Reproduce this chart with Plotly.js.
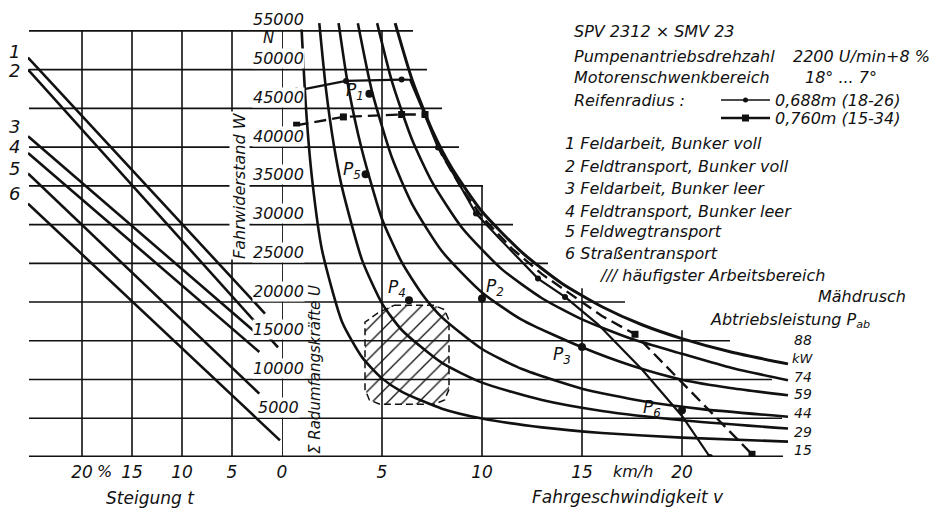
<!DOCTYPE html>
<html><head><meta charset="utf-8">
<script src="https://cdn.plot.ly/plotly-3.0.1.min.js"></script>
<style>html,body{margin:0;padding:0;background:#fff}#chart{width:933px;height:513px}</style>
</head><body><div id="chart"></div>
<script>
// ---------- DATA ----------
// Left part: resistance lines vs gradient (Steigung t in %, force in N)
const gradeNames = ['1','2','3','4','5','6'];
const grade1T = [25.4, 1.7],  grade1F = [51560, 18510];
const grade2T = [25.4, 0.4],  grade2F = [50010, 14160];
const grade3T = [25.4, 2.7],  grade3F = [41400, 16140];
const grade4T = [25.4, 2.27], grade4F = [39250, 13560];
const grade5T = [25.4, 2.27], grade5F = [36590, 8180];
const grade6T = [25.4, 0.2],  grade6F = [32710, 2150];

// Right part: output power curves (speed km/h, force N)
const powerLabels = ['15','29','44','59','74','88'];
const p15V = [0.964,1.2,1.5,2,3,4,5,6,8,10,13,16,20,25.3];
const p15F = [56000,45000,36000,26730,17460,12890,10150,8415,6240,4970,3820,3105,2500,1985];
const p29V = [1.864,2.2,2.6,3,4,5,6,8,10,13,16,20,25.3];
const p29F = [56000,47450,40150,34800,25450,19840,16360,12140,9605,7350,5940,4750,3670];
const p44V = [2.829,3.3,4,5,6,7,8,10,12,15,18,21,25.3];
const p44F = [56000,48000,39600,30730,25080,21050,18020,13940,11350,8820,7220,6185,5195];
const p59V = [3.793,4.5,5.5,6.5,8,10,12,15,17.5,20,22.5,25.3];
const p59F = [56000,47200,38620,32680,26550,21240,17700,14160,11775,9980,8875,7975];
const p74V = [4.757,5.5,6.5,7.5,9,11,13,15,17.5,20,22.5,25.3];
const p74F = [56000,48440,40985,35520,29600,24220,20490,17760,15220,13320,11485,9900];
const p88V = [5.657,6.5,7.5,8.5,10,12,14,16,18,20,22.5,25.3];
const p88F = [56000,48740,42240,37270,31680,26400,22400,19400,17070,15285,13515,12020];

// Tyre radius limit curves
const r688V = [0.73,3.2,5.98,6.4,7.0,7.8,8.7,9.7,10.8,12.8,14.15,15.8,18.0,20.0,21.4];
const r688F = [47300,48550,48720,48700,45000,39950,35940,31420,28400,23030,20660,17130,11300,5300,0];
const r688DotV = [0.73,3.2,5.98,7.8,9.7,12.8,14.15,21.4];
const r688DotF = [47300,48550,48720,39950,31420,23030,20660,0];
const r760V = [0.73,3.07,5.98,7.15,8,9,10,11.5,13,14.5,16,17.65,23.5];
const r760F = [42830,43900,44210,44210,39000,34600,31000,26900,23600,20900,18200,15840,350];
const r760SqV = [0.73,3.07,5.98,7.15,17.65,23.5];
const r760SqF = [42830,43900,44210,44210,15840,350];

// Most frequent working area (hatched)
const hatchV = [5.6,7.6,8.13,8.35,8.35,8.13,7.6,4.9,4.37,4.15,4.15,4.8,5.6];
const hatchF = [19580,19580,19012,17640,8740,7368,6800,6800,7368,8740,17400,18600,19580];

// Operating points
const pointNames = ['P<sub>1</sub>','P<sub>5</sub>','P<sub>4</sub>','P<sub>2</sub>','P<sub>3</sub>','P<sub>6</sub>'];
const pointV = [4.37,4.18,6.35,10.0,15.0,20.0];
const pointF = [46900,36500,20230,20450,14200,6030];

// Axes / grid
const forceTicks = [5000,10000,15000,20000,25000,30000,35000,40000,45000,50000,55000];
const gridF = [0,5000,10000,15000,20000,25000,30000,35000,40000,45000,50000,55000];
const gridRightEndV = [25.05,25.0,24.5,22.4,17.15,13.3,11.55,10.05,8.85,8.0,7.25,6.55];
const gradeTicks = [20,15,10,5,0];
const speedTicks = [5,10,15,20];
const speedGridTopF = [55000,35000,21780,16360];

// ---------- LAYOUT HELPERS ----------
const W=933,H=513,ML=28,MR=143,MT=10,MB=56;
const PW=W-ML-MR, PH=H-MT-MB;
const px = x => (x-ML)/PW;
const py = y => (H-MB-y)/PH;
const FONT = 'DejaVu Sans';
const K = '#111';

const traces = [];
const gT=[grade1T,grade2T,grade3T,grade4T,grade5T,grade6T];
const gF=[grade1F,grade2F,grade3F,grade4F,grade5F,grade6F];
gT.forEach((t,i)=>traces.push({x:t,y:gF[i],xaxis:'x',yaxis:'y',mode:'lines',line:{color:K,width:2.6},hoverinfo:'skip'}));

traces.push({x:hatchV,y:hatchF,xaxis:'x2',yaxis:'y',mode:'lines',fill:'toself',fillcolor:'rgba(0,0,0,0)',
  fillpattern:{shape:'/',fgcolor:K,bgcolor:'rgba(0,0,0,0)',size:11,solidity:0.12},
  line:{color:K,width:1.5,dash:'7px,4px'},hoverinfo:'skip'});

const pv=[p15V,p29V,p44V,p59V,p74V,p88V], pf=[p15F,p29F,p44F,p59F,p74F,p88F];
pv.forEach((v,i)=>traces.push({x:v,y:pf[i],xaxis:'x2',yaxis:'y',mode:'lines',line:{color:K,width:i===5?3:2.6,shape:'spline',smoothing:0.6},hoverinfo:'skip'}));

traces.push({x:r688V,y:r688F,xaxis:'x2',yaxis:'y',mode:'lines',line:{color:K,width:2.2},hoverinfo:'skip'});
traces.push({x:r760V,y:r760F,xaxis:'x2',yaxis:'y',mode:'lines',line:{color:K,width:2.4,dash:'12px,6px'},hoverinfo:'skip'});
traces.push({x:r688DotV,y:r688DotF,xaxis:'x2',yaxis:'y',mode:'markers',marker:{color:K,size:6,symbol:'circle'},hoverinfo:'skip'});
traces.push({x:r760SqV,y:r760SqF,xaxis:'x2',yaxis:'y',mode:'markers',marker:{color:K,size:7,symbol:'square'},hoverinfo:'skip'});
traces.push({x:pointV,y:pointF,xaxis:'x2',yaxis:'y',mode:'markers',marker:{color:K,size:8},hoverinfo:'skip'});

// ---------- SHAPES ----------
const shapes=[];
const ln=(xref,x0,x1,y0,y1,w)=>({type:'line',xref:xref,yref:'y',x0:x0,x1:x1,y0:y0,y1:y1,layer:'below',line:{color:K,width:w}});
gridF.forEach((f,i)=>{
  const w = f===0?3:1.6;
  shapes.push(ln('x',25.3,0,f,f,w));
  shapes.push(ln('x2',0,gridRightEndV[i],f,f,w));
});
gradeTicks.filter(t=>t>0).forEach(t=>shapes.push(ln('x',t,t,0,55000,1.6)));
shapes.push(ln('x2',0,0,0,55000,1.8));
speedTicks.forEach((v,i)=>shapes.push(ln('x2',v,v,0,speedGridTopF[i],1.6)));
// legend samples for tyre radius
shapes.push({type:'line',xref:'paper',yref:'paper',x0:px(721),x1:px(770),y0:py(100),y1:py(100),line:{color:K,width:1.6}});
shapes.push({type:'circle',xref:'paper',yref:'paper',x0:px(743),x1:px(748),y0:py(97.5),y1:py(102.5),fillcolor:K,line:{color:K,width:0}});
shapes.push({type:'line',xref:'paper',yref:'paper',x0:px(721),x1:px(770),y0:py(118),y1:py(118),line:{color:K,width:2.6}});
shapes.push({type:'rect',xref:'paper',yref:'paper',x0:px(742),x1:px(749),y0:py(114.5),y1:py(121.5),fillcolor:K,line:{color:K,width:0}});

// ---------- ANNOTATIONS ----------
const ann=[];
const f = (size)=>({family:FONT,size:size,color:K,style:'italic'});
const txt=(text,x,y,xa,size,extra)=>Object.assign({text:text,xref:'paper',yref:'paper',x:px(x),y:py(y),xanchor:xa,yanchor:'middle',showarrow:false,font:f(size)},extra||{});

forceTicks.forEach(v=>ann.push({text:String(v),xref:'x2',yref:'y',x:0,y:v,xshift:-4,yshift:11,xanchor:'center',yanchor:'middle',showarrow:false,bgcolor:'#fff',borderpad:0,font:f(16)}));
ann.push(txt('N',268,38,'center',15));

const pShift=[[-14,2],[-14,4],[-12,12],[13,11],[-20,-9],[-30,2]];
pointNames.forEach((n,i)=>ann.push({text:n,xref:'x2',yref:'y',x:pointV[i],y:pointF[i],xshift:pShift[i][0],yshift:pShift[i][1],showarrow:false,font:f(17)}));

const gradeLabelY=[51.7,71,126.7,146.7,168.3,193.3];
gradeNames.forEach((n,i)=>ann.push(txt(n,14,gradeLabelY[i],'center',18)));

ann.push(txt('SPV 2312 × SMV 23',571.7,31,'left',16));
ann.push(txt('Pumpenantriebsdrehzahl',571.7,56,'left',16));
ann.push(txt('2200 U/min+8 %',791,56,'left',16));
ann.push(txt('Motorenschwenkbereich',571.7,78,'left',16));
ann.push(txt('18° ... 7°',803,78,'left',16));
ann.push(txt('Reifenradius :',571.7,100,'left',16));
ann.push(txt('0,688m (18-26)',773,100,'left',16));
ann.push(txt('0,760m (15-34)',773,118,'left',16));
const legendLines=['1 Feldarbeit, Bunker voll','2 Feldtransport, Bunker voll','3 Feldarbeit, Bunker leer','4 Feldtransport, Bunker leer','5 Feldwegtransport','6 Straßentransport'];
const legendY=[143,166,188,211,232,253];
legendLines.forEach((s,i)=>ann.push(txt(s,563,legendY[i],'left',16)));
ann.push(txt('/// häufigster Arbeitsbereich',596.7,275,'left',16));
ann.push(txt('Mähdrusch',908,297,'right',16));
ann.push(txt('Abtriebsleistung P<sub>ab</sub>',708,320,'left',16));

const curveLabelY=[450,431.7,413,394,377,340];
powerLabels.forEach((s,i)=>ann.push(txt(s,803,curveLabelY[i],'center',14)));
ann.push(txt('kW',803,358,'center',13));

ann.push(txt('%',104,471,'center',16));
ann.push(txt('km/h',633,471,'center',16));
ann.push(txt('Steigung t',150,498,'center',17));
ann.push(txt('Fahrgeschwindigkeit v',628,497,'center',17));
ann.push(txt('Fahrwiderstand W',240,186,'center',16,{textangle:-90,bgcolor:'#fff',borderpad:0}));
ann.push(txt('Σ Radumfangskräfte U',315,370,'center',15,{textangle:-90}));

const tickFont={family:FONT,size:17,color:K,style:'italic'};
const layout={
  width:W,height:H,margin:{l:ML,r:MR,t:MT,b:MB,pad:0},
  paper_bgcolor:'#fff',plot_bgcolor:'rgba(0,0,0,0)',showlegend:false,
  xaxis:{domain:[0,(282-ML)/PW],range:[25.4,0],showgrid:false,zeroline:false,showline:false,
    tickmode:'array',tickvals:gradeTicks,ticktext:gradeTicks.map(String),ticks:'',tickfont:tickFont,ticklabelstandoff:3,anchor:'y'},
  xaxis2:{domain:[(282-ML)/PW,1],range:[0,25.4],showgrid:false,zeroline:false,showline:false,
    tickmode:'array',tickvals:speedTicks,ticktext:speedTicks.map(String),ticks:'',tickfont:tickFont,ticklabelstandoff:3,anchor:'y'},
  yaxis:{domain:[0,1],range:[0,57700],showgrid:false,zeroline:false,showline:false,showticklabels:false,ticks:''},
  shapes:shapes,annotations:ann
};
Plotly.newPlot('chart',traces,layout,{displayModeBar:false,staticPlot:true});
</script></body></html>
